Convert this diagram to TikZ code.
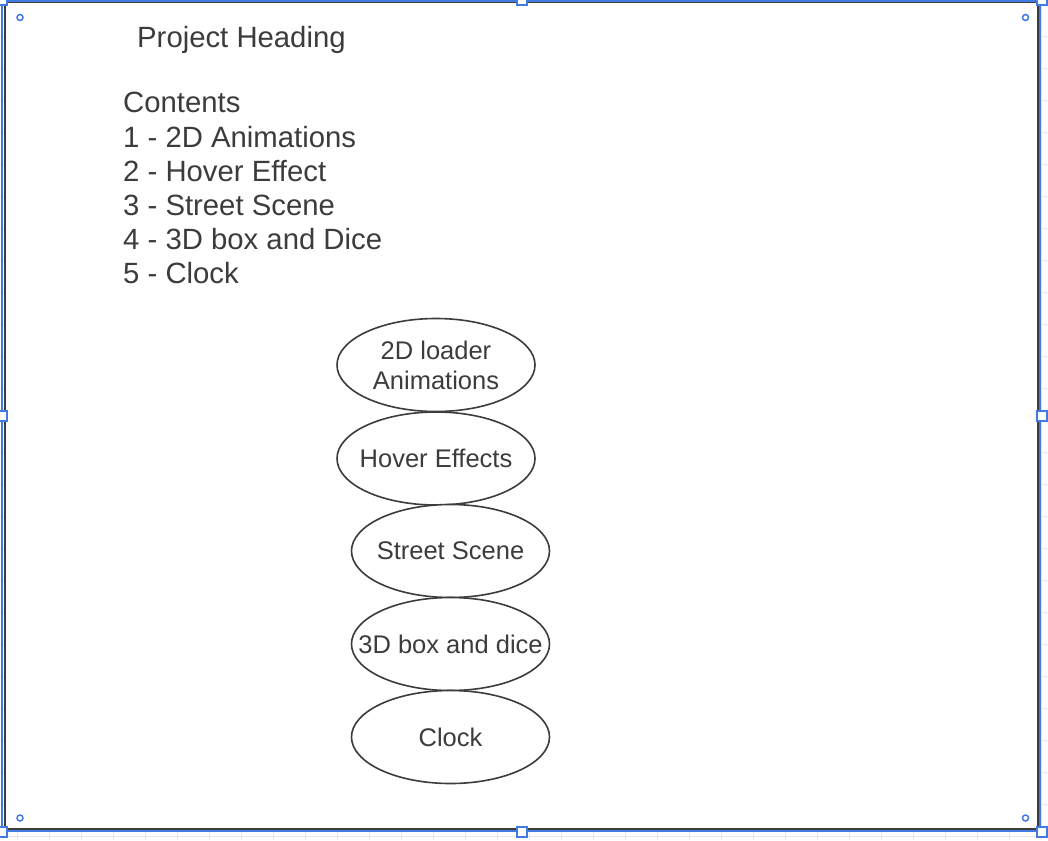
\documentclass[tikz,border=0pt]{standalone}
\usepackage{fontspec}
\setmainfont{Liberation Sans}
\usetikzlibrary{shapes.geometric}

\definecolor{inkgray}{RGB}{60,60,60}
\definecolor{gridgray}{RGB}{232,232,232}
\definecolor{selblue}{RGB}{66,122,228}

\begin{document}
\begin{tikzpicture}[x=1pt, y=-1pt,
        heading/.style={anchor=base west, inner sep=0pt, text=inkgray,
            font=\fontsize{29.3}{34}\selectfont},
        topic/.style={inner sep=0pt, align=center, text=inkgray,
            font=\fontsize{25.5}{30}\selectfont},
        topicline/.style={draw=inkgray, line width=1.6pt, fill=white},
        handle/.style={draw=selblue, line width=2pt, fill=white,
            minimum size=10pt, inner sep=0pt},
        corner/.style={draw=selblue, line width=1.5pt, circle,
            minimum size=6pt, inner sep=0pt}]
        \useasboundingbox (0,0) rectangle (1048,840);

        % Background grid
        \foreach \x in {17,49,...,1041}
            \draw[gridgray, line width=1pt] (\x,0) -- (\x,840);
        \foreach \y in {4.5,36.5,...,836.5}
            \draw[gridgray, line width=1pt] (0,\y) -- (1048,\y);

        % Page shape
        \draw[inkgray, line width=2pt, fill=white] (5,2.5) rectangle (1038,829);

        % Texts
        \node[heading] (heading) at (137,48) {Project Heading};
        \node[heading] (contents) at (123,113) {Contents};
        \node[heading] (item1) at (123,147) {1 - 2D Animations};
        \node[heading] (item2) at (123,181) {2 - Hover Effect};
        \node[heading] (item3) at (123,215) {3 - Street Scene};
        \node[heading] (item4) at (123,249) {4 - 3D box and Dice};
        \node[heading] (item5) at (123,283) {5 - Clock};

        % Topics
        \coordinate (loader) at (436,365);
        \coordinate (hover) at (436,458.5);
        \coordinate (street) at (450.5,551);
        \coordinate (dice) at (450.5,644);
        \coordinate (clock) at (450.5,737);
        \foreach \t in {loader,hover,street,dice,clock}
            \draw[topicline] (\t) ellipse [x radius=99, y radius=46.5];
        \node[topic] (loadertext) at (loader) {2D loader\\Animations};
        \node[topic] (hovertext) at (hover) {Hover Effects};
        \node[topic] (streettext) at (street) {Street Scene};
        \node[topic] (dicetext) at (dice) {3D box and dice};
        \node[topic] (clocktext) at (clock) {Clock};

        % Selection frame
        \draw[selblue, line width=2pt] (2,1) rectangle (1040,831);
        \foreach \x/\y in {2/0,522/0,1042/0,2/416,1042/416,2/832,522/832,1042/832}
            \node[handle] at (\x,\y) {};
        \foreach \x/\y in {20/17.5,1025.5/17.5,20/818,1025.5/818}
            \node[corner] at (\x,\y) {};
    \end{tikzpicture}
\end{document}
